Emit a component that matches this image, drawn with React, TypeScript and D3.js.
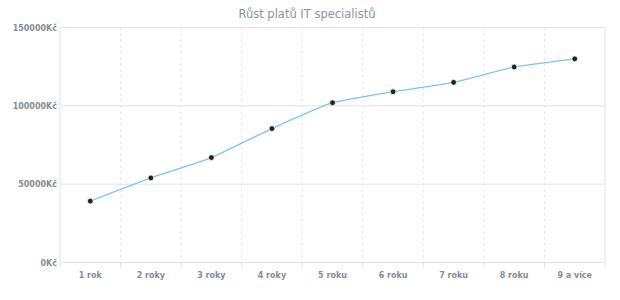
import React from "react";
import * as d3 from "d3";

const categories = ["1 rok", "2 roky", "3 roky", "4 roky", "5 roku", "6 roku", "7 roku", "8 roku", "9 a více"];
const salaries = [39200, 54000, 67000, 85500, 102000, 109000, 115000, 124800, 130000];
const yTicks = [0, 50000, 100000, 150000];
const title = "Růst platů IT specialistů";

const W = 620, H = 300;
const M = { left: 60, right: 15, top: 27.5, bottom: 37.5 };

export default function App() {
  const x = d3.scaleBand<string>().domain(categories).range([M.left, W - M.right]).padding(0);
  const y = d3.scaleLinear().domain([0, 150000]).range([H - M.bottom, M.top]);
  const line = d3
    .line<number>()
    .x((_, i) => (x(categories[i]) as number) + x.bandwidth() / 2)
    .y((d) => y(d))
    .curve(d3.curveCardinal.tension(0.55));
  const bounds = categories.map((c) => x(c) as number).concat([W - M.right]);
  const font = "'DejaVu Sans', Verdana, sans-serif";
  return (
    <svg width={W} height={H} style={{ position: "absolute", left: 0, top: 0 }} fontFamily={font}>
      <rect x={0} y={0} width={W} height={H} fill="#fff" />
      <text x={307} y={18} textAnchor="middle" fontSize={11.5} fill="#8d949b">{title}</text>
      {bounds.slice(1, -1).map((b, i) => (
        <line key={"vg" + i} x1={b} x2={b} y1={M.top} y2={H - M.bottom} stroke="#dcdcdc" strokeDasharray="2,4" />
      ))}
      {yTicks.map((t) => (
        <line key={"hg" + t} x1={M.left} x2={W - M.right} y1={y(t)} y2={y(t)} stroke="#e3e3e3" />
      ))}
      <line x1={W - M.right} x2={W - M.right} y1={M.top} y2={H - M.bottom} stroke="#e3e3e3" />
      <line x1={M.left} x2={M.left} y1={M.top} y2={H - M.bottom + 5} stroke="#e3e3e3" />
      {bounds.slice(1).map((b, i) => (
        <line key={"xt" + i} x1={b} x2={b} y1={H - M.bottom} y2={H - M.bottom + 5} stroke="#e3e3e3" />
      ))}
      {yTicks.map((t) => (
        <text key={"yl" + t} x={M.left - 3} y={y(t) + 3} textAnchor="end" fontSize={8} fontWeight="bold" fill="#858d96">
          {t + "Kč"}
        </text>
      ))}
      {categories.map((c) => (
        <text key={"xl" + c} x={(x(c) as number) + x.bandwidth() / 2} y={H - M.bottom + 15} textAnchor="middle" fontSize={8} fontWeight="bold" fill="#858d96">
          {c}
        </text>
      ))}
      <path d={line(salaries) || ""} fill="none" stroke="#7cc3f6" strokeWidth={1.3} />
      {salaries.map((v, i) => (
        <circle key={"p" + i} cx={(x(categories[i]) as number) + x.bandwidth() / 2} cy={y(v)} r={2.9} fill="#222" stroke="#fff" strokeWidth={0.8} />
      ))}
    </svg>
  );
}
